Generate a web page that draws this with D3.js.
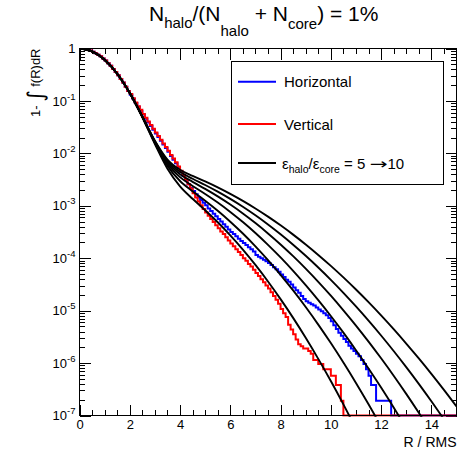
<!DOCTYPE html>
<html><head><meta charset="utf-8">
<script src="https://cdn.jsdelivr.net/npm/d3@7"></script>
<style>
body{margin:0;background:#fff}
svg{display:block}
text{font-family:"Liberation Sans",Arial,Helvetica,sans-serif;fill:#000}
</style>
</head><body>
<svg id="c" width="467" height="449"></svg>
<script>
// ---------------- data (log10 of 1 - integral) ----------------
const R_GRID = [0,0.5,1,1.5,2,2.5,3,3.5,4,4.5,5,5.5,6,6.5,7,7.5,8,8.5,9,9.5,10,10.5,11,11.5,12,12.5,13,13.5,14,14.5,15];
const RATIO_5  = [0,-0.054,-0.215,-0.482,-0.852,-1.311,-1.822,-2.292,-2.629,-2.867,-3.084,-3.314,-3.564,-3.835,-4.128,-4.443,-4.780,-5.138,-5.518,-5.920,-6.343,-6.788,-7.255];
const RATIO_6  = [0,-0.054,-0.215,-0.482,-0.850,-1.306,-1.804,-2.239,-2.528,-2.724,-2.904,-3.095,-3.303,-3.529,-3.773,-4.036,-4.316,-4.615,-4.931,-5.266,-5.619,-5.990,-6.379,-6.786,-7.211];
const RATIO_7  = [0,-0.054,-0.215,-0.481,-0.849,-1.302,-1.789,-2.198,-2.453,-2.621,-2.775,-2.938,-3.117,-3.311,-3.520,-3.745,-3.985,-4.241,-4.513,-4.800,-5.102,-5.420,-5.754,-6.103,-6.467,-6.847,-7.243];
const RATIO_8  = [0,-0.054,-0.215,-0.481,-0.848,-1.299,-1.777,-2.167,-2.397,-2.544,-2.678,-2.821,-2.977,-3.147,-3.330,-3.527,-3.737,-3.961,-4.199,-4.450,-4.714,-4.993,-5.284,-5.590,-5.909,-6.241,-6.587,-6.947,-7.320];
const RATIO_9  = [0,-0.054,-0.215,-0.481,-0.848,-1.296,-1.768,-2.141,-2.352,-2.484,-2.603,-2.730,-2.869,-3.019,-3.182,-3.357,-3.544,-3.743,-3.954,-4.178,-4.413,-4.660,-4.920,-5.191,-5.474,-5.770,-6.078,-6.397,-6.729,-7.073];
const RATIO_10 = [0,-0.054,-0.215,-0.481,-0.847,-1.294,-1.759,-2.118,-2.313,-2.430,-2.536,-2.649,-2.773,-2.907,-3.052,-3.207,-3.373,-3.550,-3.738,-3.937,-4.146,-4.366,-4.597,-4.838,-5.090,-5.353,-5.627,-5.911,-6.206,-6.512,-6.828];

// histograms, bin width 0.1 starting at R = 0; bins past the list are empty
const BIN_WIDTH = 0.1;
const N_BINS = 150;
const HORIZONTAL = [
 0.00,0.00,-0.01,-0.03,-0.04,-0.06,-0.09,-0.12,-0.15,-0.19,
 -0.23,-0.28,-0.33,-0.39,-0.45,-0.51,-0.58,-0.65,-0.73,-0.81,
 -0.88,-0.96,-1.04,-1.11,-1.19,-1.26,-1.34,-1.41,-1.48,-1.55,
 -1.62,-1.69,-1.76,-1.83,-1.90,-1.97,-2.05,-2.12,-2.19,-2.27,
 -2.35,-2.43,-2.51,-2.59,-2.66,-2.72,-2.78,-2.84,-2.89,-2.94,
 -2.99,-3.05,-3.10,-3.15,-3.20,-3.25,-3.30,-3.35,-3.40,-3.45,
 -3.50,-3.54,-3.58,-3.63,-3.67,-3.71,-3.75,-3.79,-3.83,-3.87,
 -3.94,-3.97,-4.00,-4.03,-4.06,-4.09,-4.13,-4.17,-4.21,-4.26,
 -4.31,-4.36,-4.41,-4.45,-4.50,-4.56,-4.61,-4.66,-4.72,-4.78,
 -4.82,-4.85,-4.88,-4.90,-4.94,-4.98,-5.01,-5.05,-5.09,-5.14,
 -5.20,-5.28,-5.35,-5.42,-5.48,-5.54,-5.60,-5.67,-5.72,-5.77,
 -5.82,-5.87,-5.94,-6.02,-6.12,-6.24,-6.42,-6.42,-6.72,-6.72,
 -6.72,-6.72,-6.72,-6.72];
const VERTICAL = [
 0.00,0.00,-0.01,-0.03,-0.04,-0.06,-0.09,-0.12,-0.15,-0.19,
 -0.23,-0.28,-0.33,-0.39,-0.45,-0.51,-0.58,-0.65,-0.73,-0.81,
 -0.87,-0.95,-1.03,-1.10,-1.17,-1.25,-1.32,-1.39,-1.46,-1.53,
 -1.60,-1.67,-1.74,-1.81,-1.88,-1.95,-2.03,-2.10,-2.17,-2.25,
 -2.33,-2.41,-2.50,-2.59,-2.67,-2.76,-2.84,-2.92,-2.99,-3.06,
 -3.13,-3.19,-3.25,-3.31,-3.37,-3.43,-3.49,-3.54,-3.60,-3.66,
 -3.72,-3.77,-3.83,-3.88,-3.94,-4.00,-4.05,-4.11,-4.16,-4.22,
 -4.28,-4.34,-4.40,-4.46,-4.52,-4.58,-4.65,-4.72,-4.79,-4.87,
 -4.97,-5.05,-5.12,-5.27,-5.36,-5.45,-5.55,-5.64,-5.68,-5.72,
 -5.72,-5.77,-5.82,-5.94,-5.94,-6.02,-6.02,-6.12,-6.12,-6.12,
 -6.24,-6.24,-6.42,-6.42,-6.72];

const X_TICKS = [0,2,4,6,8,10,12,14];
const X_MINOR = [0.5,1,1.5,2.5,3,3.5,4.5,5,5.5,6.5,7,7.5,8.5,9,9.5,10.5,11,11.5,12.5,13,13.5,14.5];
const Y_DECADES = [0,-1,-2,-3,-4,-5,-6,-7];
const LEGEND = ["Horizontal","Vertical"];

// ---------------- layout ----------------
const X0 = 79.5, X1 = 456.5, Y0 = 48.5, Y1 = 415.5;
const svg = d3.select("#c");
const x = d3.scaleLinear().domain([0,15]).range([X0,X1]);
const y = d3.scaleLog().domain([1e-7,1]).range([Y1,Y0]);
const yl = v => (v === null || v === undefined) ? Y1 : y(Math.pow(10, v));

// clip
svg.append("defs").append("clipPath").attr("id","clip")
  .append("rect").attr("x",X0).attr("y",Y0).attr("width",X1-X0).attr("height",Y1-Y0+1.2);

// axes (ticks inside frame)
const yMinor = [];
Y_DECADES.slice(1).forEach(d => { for (let m=2;m<=9;m++) yMinor.push(m*Math.pow(10,d)); });
const yMajor = Y_DECADES.map(d => Math.pow(10,d));
function clean(g){ g.select(".domain").remove(); g.selectAll("line").attr("stroke","#000").attr("shape-rendering","crispEdges"); }

svg.append("g").attr("transform",`translate(0,${Y1})`)
  .call(d3.axisBottom(x).tickValues(X_TICKS).tickSize(-11).tickPadding(4.5).tickFormat(d3.format("d")))
  .call(clean)
  .call(g => g.selectAll("text").attr("font-size",13).attr("font-family","Liberation Sans, Arial, sans-serif"));
svg.append("g").attr("transform",`translate(0,${Y1})`)
  .call(d3.axisBottom(x).tickValues(X_MINOR).tickSize(-5.5).tickFormat("")).call(clean);
svg.append("g").attr("transform",`translate(0,${Y0})`)
  .call(d3.axisTop(x).tickValues(X_TICKS).tickSize(-11).tickFormat("")).call(clean);
svg.append("g").attr("transform",`translate(0,${Y0})`)
  .call(d3.axisTop(x).tickValues(X_MINOR).tickSize(-5.5).tickFormat("")).call(clean);
svg.append("g").attr("transform",`translate(${X0},0)`)
  .call(d3.axisLeft(y).tickValues(yMajor).tickSize(-11).tickFormat("")).call(clean);
svg.append("g").attr("transform",`translate(${X0},0)`)
  .call(d3.axisLeft(y).tickValues(yMinor).tickSize(-5.5).tickFormat("")).call(clean);
svg.append("g").attr("transform",`translate(${X1},0)`)
  .call(d3.axisRight(y).tickValues(yMajor).tickSize(-11).tickFormat("")).call(clean);
svg.append("g").attr("transform",`translate(${X1},0)`)
  .call(d3.axisRight(y).tickValues(yMinor).tickSize(-5.5).tickFormat("")).call(clean);

// y tick labels
Y_DECADES.forEach(d => {
  const t = svg.append("text").attr("x",75.5).attr("y",y(Math.pow(10,d))+4.7)
    .attr("text-anchor","end").attr("font-size",13);
  if (d === 0) { t.text("1"); }
  else {
    t.append("tspan").text("10");
    t.append("tspan").attr("font-size",9.5).attr("dy",-6).text(String(d));
  }
});

// data
const plot = svg.append("g").attr("clip-path","url(#clip)");
function histLine(vals){
  const pts = [];
  for (let i=0;i<N_BINS;i++) pts.push([i*BIN_WIDTH, i<vals.length ? vals[i] : null]);
  pts.push([N_BINS*BIN_WIDTH, pts[pts.length-1][1]]);
  return d3.line().x(d=>x(d[0])).y(d=>yl(d[1])).curve(d3.curveStepAfter)(pts);
}
plot.append("path").attr("d",histLine(HORIZONTAL)).attr("fill","none").attr("stroke","#0000ff").attr("stroke-width",2);
plot.append("path").attr("d",histLine(VERTICAL)).attr("fill","none").attr("stroke","#ff0000").attr("stroke-width",2);

const curveLine = d3.line().x(d=>x(d[0])).y(d=>yl(d[1])).curve(d3.curveMonotoneX);
[RATIO_5,RATIO_6,RATIO_7,RATIO_8,RATIO_9,RATIO_10].forEach(arr => {
  const pts = arr.map((v,i) => [R_GRID[i], v]);
  plot.append("path").attr("d",curveLine(pts)).attr("fill","none").attr("stroke","#000").attr("stroke-width",1.9);
});

// frame
svg.append("rect").attr("x",X0).attr("y",Y0).attr("width",X1-X0).attr("height",Y1-Y0)
  .attr("fill","none").attr("stroke","#000").attr("stroke-width",1);

// legend
const lg = svg.append("g");
lg.append("rect").attr("x",231.5).attr("y",61.5).attr("width",212).attr("height",123)
  .attr("fill","#fff").attr("stroke","#000").attr("stroke-width",1);
const legRows = [{y:81.7,c:"#0000ff",t:LEGEND[0]},{y:124,c:"#ff0000",t:LEGEND[1]},{y:163,c:"#000",t:null}];
legRows.forEach(r => {
  lg.append("line").attr("x1",238).attr("x2",276).attr("y1",r.y).attr("y2",r.y).attr("stroke",r.c).attr("stroke-width",2);
  if (r.t) lg.append("text").attr("x",284).attr("y",r.y+5.5).attr("font-size",15).text(r.t);
});
const eBase = 163 + 5.5;
const et = lg.append("text").attr("x",282).attr("y",eBase).attr("font-size",15);
et.append("tspan").text("ε");
et.append("tspan").attr("font-size",10.5).attr("dy",4).text("halo");
et.append("tspan").attr("dy",-4).text("/ε");
et.append("tspan").attr("font-size",10.5).attr("dy",4).text("core");
et.append("tspan").attr("dy",-4).text(" = 5 ");
et.append("tspan").attr("font-family","DejaVu Sans").attr("font-size",15)
  .attr("textLength",18).attr("lengthAdjust","spacingAndGlyphs").text("→");
et.append("tspan").text("10");

// title
const tt = svg.append("text").attr("x",149).attr("y",21).attr("font-size",21);
tt.append("tspan").text("N");
tt.append("tspan").attr("font-size",15).attr("dy",7).text("halo");
tt.append("tspan").attr("dy",-7).text("/(N");
tt.append("tspan").attr("font-size",15).attr("dy",15).text("halo");
tt.append("tspan").attr("dy",-15).text(" + N");
tt.append("tspan").attr("font-size",15).attr("dy",8).text("core");
tt.append("tspan").attr("dy",-8).text(") = 1%");

// axis titles
svg.append("text").attr("x",X1).attr("y",447).attr("text-anchor","end").attr("font-size",14).text("R / RMS");
const yt = svg.append("text").attr("transform",`translate(40,${Y0}) rotate(-90)`).attr("text-anchor","end").attr("font-size",13);
yt.append("tspan").text("1- ");
yt.append("tspan").attr("font-family","DejaVu Sans").attr("font-size",22).attr("dy",3).text("∫");
yt.append("tspan").attr("dy",-3).text(" f(R)dR");
</script>
</body></html>
